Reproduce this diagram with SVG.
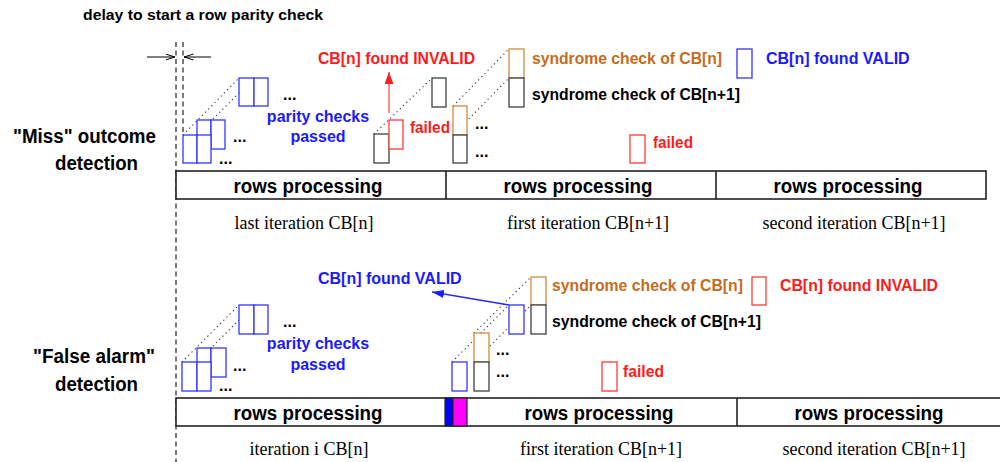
<svg xmlns="http://www.w3.org/2000/svg" width="1000" height="462" viewBox="0 0 1000 462">
<defs>
<style>
.bx{fill:#fff;stroke-width:1.3}
.bl{stroke:#3535ff}
.bk{stroke:#404040}
.or{stroke:#cf8a3e}
.rd{stroke:#ff3b3b}
.dt{stroke:#333;stroke-width:1.1;stroke-dasharray:1.2 3.3;fill:none}
.t{font-family:"Liberation Sans",Arial,sans-serif;font-weight:bold}
.s{font-family:"Liberation Serif","Times New Roman",serif;font-size:18px;text-anchor:middle;fill:#000}
.bar{fill:#fff;stroke:#222;stroke-width:1.6}
.rp{font-family:"Liberation Sans",Arial,sans-serif;font-weight:bold;font-size:19.5px;text-anchor:middle}
</style>
<marker id="ah" markerWidth="10" markerHeight="8" refX="9.5" refY="3.5" orient="auto" markerUnits="userSpaceOnUse">
<path d="M0,0.5 L9.5,3.5 L0,6.5" fill="none" stroke="#000" stroke-width="1"/>
</marker>
<marker id="ar" markerWidth="12" markerHeight="10" refX="12" refY="4.5" orient="auto" markerUnits="userSpaceOnUse">
<path d="M0,0 L12,4.5 L0,9 Z" fill="#ff2020"/>
</marker>
<marker id="ab" markerWidth="12" markerHeight="10" refX="12" refY="4" orient="auto" markerUnits="userSpaceOnUse">
<path d="M0,0 L12,4 L0,8 Z" fill="#1a1aff"/>
</marker>
</defs>
<rect width="1000" height="462" fill="#fff"/>

<g id="connectors">
<line x1="176" y1="42" x2="176" y2="462" stroke="#222" stroke-width="1.2" stroke-dasharray="5 3.5"/>
<line x1="183" y1="42" x2="183" y2="135" stroke="#222" stroke-width="1.2" stroke-dasharray="5 3.5"/>
<line x1="147" y1="57" x2="175" y2="57" stroke="#000" stroke-width="1" marker-end="url(#ah)"/>
<line x1="211" y1="57" x2="184" y2="57" stroke="#000" stroke-width="1" marker-end="url(#ah)"/>
<line class="dt" x1="183" y1="135" x2="239" y2="78"/>
<line class="dt" x1="197" y1="135" x2="254" y2="78"/>
<line class="dt" x1="374" y1="134" x2="432" y2="78"/>
<line class="dt" x1="453" y1="106" x2="509" y2="49"/>
<line class="dt" x1="453" y1="135" x2="509" y2="78"/>
<line class="dt" x1="182" y1="362" x2="239" y2="305"/>
<line class="dt" x1="197" y1="362" x2="254" y2="305"/>
<line class="dt" x1="452" y1="362" x2="509" y2="305"/>
<line class="dt" x1="474" y1="333" x2="531" y2="277"/>
<line class="dt" x1="474" y1="362" x2="531" y2="305"/>
<line x1="389" y1="113" x2="389" y2="72" stroke="#ff5050" stroke-width="1.3" marker-end="url(#ar)"/>
<line x1="509" y1="305" x2="432" y2="292" stroke="#2a2aff" stroke-width="1.3" marker-end="url(#ab)"/>
</g>

<g id="title"><text class="t" x="83" y="20" font-size="14.5" textLength="240" lengthAdjust="spacingAndGlyphs">delay to start a row parity check</text></g>
<g id="label-miss">
<text class="t" x="13" y="143" font-size="20" textLength="143" lengthAdjust="spacingAndGlyphs">"Miss" outcome</text>
<text class="t" x="55" y="170" font-size="20" textLength="83" lengthAdjust="spacingAndGlyphs">detection</text>
</g>
<g id="label-false">
<text class="t" x="33" y="363" font-size="20" textLength="122" lengthAdjust="spacingAndGlyphs">"False alarm"</text>
<text class="t" x="55" y="391" font-size="20" textLength="83" lengthAdjust="spacingAndGlyphs">detection</text>
</g>

<g id="top-parity">
<rect class="bx bl" x="197" y="120" width="14" height="29"/>
<rect class="bx bl" x="211" y="120" width="14" height="29"/>
<rect class="bx bl" x="183" y="135" width="14" height="28"/>
<rect class="bx bl" x="197" y="135" width="14" height="28"/>
<rect class="bx bl" x="239" y="78" width="15" height="28"/>
<rect class="bx bl" x="254" y="78" width="14" height="28"/>
<text class="t" x="283" y="100" font-size="16">...</text>
<text class="t" x="233" y="142" font-size="16">...</text>
<text class="t" x="219" y="164" font-size="16">...</text>
<text class="t" x="318" y="122" font-size="16" fill="#1a1aff" text-anchor="middle">parity checks</text>
<text class="t" x="318" y="142" font-size="16" fill="#1a1aff" text-anchor="middle">passed</text>
</g>

<g id="top-failed">
<rect class="bx bk" x="374" y="134" width="15" height="29"/>
<rect class="bx rd" x="389" y="120" width="14" height="29"/>
<rect class="bx bk" x="432" y="78" width="14" height="29"/>
<text class="t" x="410" y="133" font-size="16" fill="#ff1a1a" textLength="40" lengthAdjust="spacingAndGlyphs">failed</text>
<text class="t" x="318" y="64" font-size="16" fill="#ff1a1a" textLength="157" lengthAdjust="spacingAndGlyphs">CB[n] found INVALID</text>
</g>

<g id="top-syndrome">
<rect class="bx or" x="453" y="106" width="14" height="29"/>
<rect class="bx bk" x="453" y="135" width="14" height="28"/>
<rect class="bx or" x="509" y="49" width="15" height="29"/>
<rect class="bx bk" x="509" y="78" width="15" height="29"/>
<text class="t" x="475" y="129" font-size="16">...</text>
<text class="t" x="475" y="157" font-size="16">...</text>
<text class="t" x="532" y="64" font-size="16" fill="#c46d1c" textLength="190" lengthAdjust="spacingAndGlyphs">syndrome check of CB[n]</text>
<text class="t" x="532" y="100" font-size="16" fill="#000" textLength="208" lengthAdjust="spacingAndGlyphs">syndrome check of CB[n+1]</text>
</g>

<g id="top-valid">
<rect class="bx bl" x="737" y="49" width="15" height="29"/>
<text class="t" x="766" y="64" font-size="16" fill="#1a1aff">CB[n] found VALID</text>
</g>
<g id="top-failed2">
<rect class="bx rd" x="630" y="135" width="15" height="28"/>
<text class="t" x="653" y="148" font-size="16" fill="#ff1a1a" textLength="40" lengthAdjust="spacingAndGlyphs">failed</text>
</g>

<g id="top-bar">
<rect class="bar" x="176" y="171" width="810" height="28"/>
<line x1="446" y1="171" x2="446" y2="199" stroke="#222" stroke-width="1.6"/>
<line x1="716" y1="171" x2="716" y2="199" stroke="#222" stroke-width="1.6"/>
<text class="rp" x="308" y="193" textLength="149" lengthAdjust="spacingAndGlyphs">rows processing</text>
<text class="rp" x="578" y="193" textLength="149" lengthAdjust="spacingAndGlyphs">rows processing</text>
<text class="rp" x="848" y="193" textLength="149" lengthAdjust="spacingAndGlyphs">rows processing</text>
<text class="s" x="304" y="229">last iteration CB[n]</text>
<text class="s" x="588" y="229">first iteration CB[n+1]</text>
<text class="s" x="854" y="229">second iteration CB[n+1]</text>
</g>

<g id="bottom-parity">
<rect class="bx bl" x="197" y="348" width="14" height="29"/>
<rect class="bx bl" x="211" y="348" width="15" height="29"/>
<rect class="bx bl" x="182" y="362" width="15" height="29"/>
<rect class="bx bl" x="197" y="362" width="14" height="29"/>
<rect class="bx bl" x="239" y="305" width="15" height="29"/>
<rect class="bx bl" x="254" y="305" width="14" height="29"/>
<text class="t" x="283" y="327" font-size="16">...</text>
<text class="t" x="233" y="371" font-size="16">...</text>
<text class="t" x="219" y="391" font-size="16">...</text>
<text class="t" x="318" y="349" font-size="16" fill="#1a1aff" text-anchor="middle">parity checks</text>
<text class="t" x="318" y="370" font-size="16" fill="#1a1aff" text-anchor="middle">passed</text>
</g>

<g id="bottom-syndrome">
<rect class="bx bl" x="452" y="362" width="15" height="29"/>
<rect class="bx or" x="474" y="333" width="15" height="29"/>
<rect class="bx bk" x="474" y="362" width="15" height="29"/>
<rect class="bx bl" x="509" y="305" width="15" height="29"/>
<rect class="bx or" x="531" y="277" width="15" height="28"/>
<rect class="bx bk" x="531" y="305" width="15" height="29"/>
<text class="t" x="496" y="355" font-size="16">...</text>
<text class="t" x="496" y="377" font-size="16">...</text>
<text class="t" x="552" y="291" font-size="16" fill="#c46d1c" textLength="191" lengthAdjust="spacingAndGlyphs">syndrome check of CB[n]</text>
<text class="t" x="552" y="327" font-size="16" fill="#000" textLength="209" lengthAdjust="spacingAndGlyphs">syndrome check of CB[n+1]</text>
<text class="t" x="318" y="284" font-size="16" fill="#1a1aff">CB[n] found VALID</text>
</g>

<g id="bottom-invalid">
<rect class="bx rd" x="752" y="277" width="14" height="28"/>
<text class="t" x="780" y="291" font-size="16" fill="#ff1a1a" textLength="158" lengthAdjust="spacingAndGlyphs">CB[n] found INVALID</text>
</g>
<g id="bottom-failed">
<rect class="bx rd" x="602" y="362" width="15" height="29"/>
<text class="t" x="623" y="377" font-size="16" fill="#ff1a1a" textLength="41" lengthAdjust="spacingAndGlyphs">failed</text>
</g>

<g id="bottom-bar">
<rect class="bar" x="176" y="398" width="831" height="28"/>
<rect x="445" y="398" width="8" height="28" fill="#0000ff" stroke="#222" stroke-width="1.2"/>
<rect x="453" y="398" width="14" height="28" fill="#ff00ff" stroke="#222" stroke-width="1.2"/>
<line x1="737" y1="398" x2="737" y2="426" stroke="#222" stroke-width="1.6"/>
<text class="rp" x="308" y="420" textLength="149" lengthAdjust="spacingAndGlyphs">rows processing</text>
<text class="rp" x="599" y="420" textLength="149" lengthAdjust="spacingAndGlyphs">rows processing</text>
<text class="rp" x="869" y="420" textLength="149" lengthAdjust="spacingAndGlyphs">rows processing</text>
<text class="s" x="309" y="455">iteration i CB[n]</text>
<text class="s" x="601" y="455">first iteration CB[n+1]</text>
<text class="s" x="874" y="455">second iteration CB[n+1]</text>
</g>
</svg>
